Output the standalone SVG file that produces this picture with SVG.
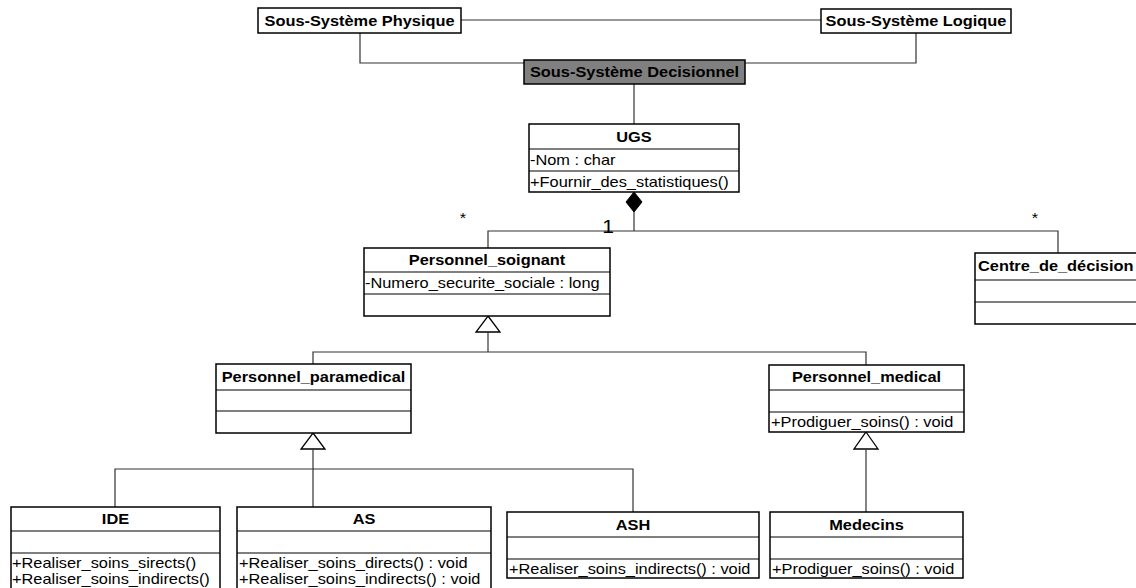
<svg xmlns="http://www.w3.org/2000/svg" width="1136" height="588" viewBox="0 0 1136 588">
  <style>
    .box { fill: #ffffff; stroke: #000000; stroke-width: 1.5; }
    .dark { fill: #808080; stroke: #000000; stroke-width: 1.5; }
    .sep { stroke: #000000; stroke-width: 1.2; fill: none; }
    .wire { stroke: #333333; stroke-width: 1.2; fill: none; }
    .t { font-family: "Liberation Sans", Arial, sans-serif; font-size: 14px; font-weight: bold; fill: #000000; text-anchor: middle; }
    .a { font-family: "Liberation Sans", Arial, sans-serif; font-size: 14px; fill: #000000; }
    .m { font-family: "Liberation Sans", Arial, sans-serif; font-size: 14px; fill: #000000; text-anchor: middle; }
    .gen { fill: #ffffff; stroke: #000000; stroke-width: 1.3; }
    .comp { fill: #000000; stroke: #000000; stroke-width: 1; }
  </style>

  <!-- connectors -->
  <g id="connectors">
    <path class="wire" d="M461 20 H821"/>
    <path class="wire" d="M360 33 V63 H524"/>
    <path class="wire" d="M916 33 V63 H745"/>
    <path class="wire" d="M634 84 V124"/>
    <!-- composition UGS -->
    <polygon class="comp" points="634,192 642,202 634,212 626,202"/>
    <path class="wire" d="M634 212 V231"/>
    <path class="wire" d="M488 248 V231 H1058 V253"/>
    <text class="m" transform="matrix(1.17 0 0 1 463 223)">*</text>
    <text class="m" style="font-size:18px" transform="matrix(1.17 0 0 1 608 233)">1</text>
    <text class="m" transform="matrix(1.17 0 0 1 1035 223)">*</text>
    <!-- generalisation Personnel_soignant -->
    <polygon class="gen" points="488,316 500,332 476,332"/>
    <path class="wire" d="M488 332 V352"/>
    <path class="wire" d="M313 364 V352 H866 V365"/>
    <!-- generalisation Personnel_paramedical -->
    <polygon class="gen" points="313,433 325,449 301,449"/>
    <path class="wire" d="M313 449 V507"/>
    <path class="wire" d="M115 507 V469 H633 V512"/>
    <!-- generalisation Personnel_medical -->
    <polygon class="gen" points="866,432 878,449 854,449"/>
    <path class="wire" d="M866 449 V512"/>
  </g>

  <g id="ss-physique">
    <rect class="box" x="258" y="8" width="203" height="25"/>
    <text class="t" transform="matrix(1.17 0 0 1 359.5 25.5)">Sous-Système Physique</text>
  </g>

  <g id="ss-logique">
    <rect class="box" x="821" y="9" width="190" height="24"/>
    <text class="t" transform="matrix(1.17 0 0 1 916 26)">Sous-Système Logique</text>
  </g>

  <g id="ss-decisionnel">
    <rect class="dark" x="524" y="60" width="221" height="24"/>
    <text class="t" transform="matrix(1.17 0 0 1 634.5 77)">Sous-Système Decisionnel</text>
  </g>

  <g id="ugs">
    <rect class="box" x="529" y="124" width="210" height="68"/>
    <path class="sep" d="M529 149 H739 M529 171 H739"/>
    <text class="t" transform="matrix(1.17 0 0 1 634 141.5)">UGS</text>
    <text class="a" transform="matrix(1.17 0 0 1 530 165)">-Nom : char</text>
    <text class="a" transform="matrix(1.17 0 0 1 530 186.5)">+Fournir_des_statistiques()</text>
  </g>

  <g id="personnel-soignant">
    <rect class="box" x="364" y="248" width="246" height="68"/>
    <path class="sep" d="M364 272 H610 M364 294 H610"/>
    <text class="t" transform="matrix(1.17 0 0 1 487 265)">Personnel_soignant</text>
    <text class="a" transform="matrix(1.17 0 0 1 365 288)">-Numero_securite_sociale : long</text>
  </g>

  <g id="centre-decision">
    <rect class="box" x="975" y="253" width="170" height="71"/>
    <path class="sep" d="M975 280 H1145 M975 302 H1145"/>
    <text class="t" style="text-anchor:start" transform="matrix(1.17 0 0 1 978 271)">Centre_de_décision</text>
  </g>

  <g id="personnel-paramedical">
    <rect class="box" x="216" y="364" width="195" height="69"/>
    <path class="sep" d="M216 390 H411 M216 411 H411"/>
    <text class="t" transform="matrix(1.17 0 0 1 313.5 382)">Personnel_paramedical</text>
  </g>

  <g id="personnel-medical">
    <rect class="box" x="769" y="365" width="195" height="67"/>
    <path class="sep" d="M769 390 H964 M769 412 H964"/>
    <text class="t" transform="matrix(1.17 0 0 1 866.5 382)">Personnel_medical</text>
    <text class="a" transform="matrix(1.17 0 0 1 771 427)">+Prodiguer_soins() : void</text>
  </g>

  <g id="ide">
    <rect class="box" x="11" y="507" width="209" height="95"/>
    <path class="sep" d="M11 531 H220 M11 553 H220"/>
    <text class="t" transform="matrix(1.17 0 0 1 115.5 524)">IDE</text>
    <text class="a" transform="matrix(1.17 0 0 1 12 568)">+Realiser_soins_sirects()</text>
    <text class="a" transform="matrix(1.17 0 0 1 12 584)">+Realiser_soins_indirects()</text>
  </g>

  <g id="as">
    <rect class="box" x="237" y="507" width="254" height="95"/>
    <path class="sep" d="M237 531 H491 M237 553 H491"/>
    <text class="t" transform="matrix(1.17 0 0 1 364 524)">AS</text>
    <text class="a" transform="matrix(1.17 0 0 1 239 568)">+Realiser_soins_directs() : void</text>
    <text class="a" transform="matrix(1.17 0 0 1 239 584)">+Realiser_soins_indirects() : void</text>
  </g>

  <g id="ash">
    <rect class="box" x="507" y="512" width="252" height="66"/>
    <path class="sep" d="M507 537 H759 M507 559 H759"/>
    <text class="t" transform="matrix(1.17 0 0 1 633 530)">ASH</text>
    <text class="a" transform="matrix(1.17 0 0 1 509 574)">+Realiser_soins_indirects() : void</text>
  </g>

  <g id="medecins">
    <rect class="box" x="770" y="512" width="193" height="66"/>
    <path class="sep" d="M770 537 H963 M770 559 H963"/>
    <text class="t" transform="matrix(1.17 0 0 1 866.5 530)">Medecins</text>
    <text class="a" transform="matrix(1.17 0 0 1 772 574)">+Prodiguer_soins() : void</text>
  </g>
</svg>
